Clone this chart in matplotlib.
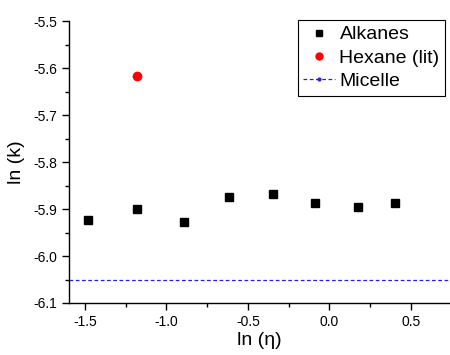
import matplotlib.pyplot as plt
from matplotlib.lines import Line2D
from matplotlib.ticker import MultipleLocator

plt.rcParams['font.family'] = ['Liberation Sans', 'DejaVu Sans']

# ln(viscosity) vs ln(rate constant) for the alkane series
ln_eta = [-1.48, -1.177, -0.894, -0.617, -0.343, -0.09, 0.175, 0.404]
ln_k = [-5.923, -5.899, -5.927, -5.874, -5.867, -5.888, -5.895, -5.886]

# literature value for hexane
hexane_eta = [-1.177]
hexane_k = [-5.616]

# micelle reference level
micelle_k = -6.05

fig = plt.figure(figsize=(4.5, 3.55), dpi=100)
ax = fig.add_axes([0.153, 0.1465, 0.847, 0.7935])

ax.plot(ln_eta, ln_k, 's', color='black', markersize=6, label='Alkanes')
ax.plot(hexane_eta, hexane_k, 'o', color='red', markersize=6, label='Hexane (lit)')
ax.axhline(micelle_k, color='#2222ee', lw=0.9, ls=(0, (3, 2)))

ax.set_xlim(-1.598, 0.74)
ax.set_ylim(-6.1, -5.5)
ax.xaxis.set_major_locator(MultipleLocator(0.5))
ax.xaxis.set_minor_locator(MultipleLocator(0.25))
ax.yaxis.set_major_locator(MultipleLocator(0.1))
ax.yaxis.set_minor_locator(MultipleLocator(0.05))
ax.xaxis.set_major_formatter(plt.FormatStrFormatter('%.1f'))
ax.yaxis.set_major_formatter(plt.FormatStrFormatter('%.1f'))

for s in ['top', 'right']:
    ax.spines[s].set_visible(False)
for s in ['left', 'bottom']:
    ax.spines[s].set_linewidth(1.0)
ax.tick_params(which='major', direction='out', length=5, width=1, labelsize=10)
ax.tick_params(which='minor', direction='out', length=3, width=1)

ax.set_xlabel('ln (η)', fontsize=14, labelpad=2)
ax.set_ylabel('ln (k)', fontsize=14, labelpad=6)

handles = [
    Line2D([], [], ls='none', marker='s', color='black', markersize=4),
    Line2D([], [], ls='none', marker='o', color='red', markersize=5),
    Line2D([], [], color='#2222ee', lw=0.9, ls=(0, (3, 2)), marker='.', markersize=4),
]
leg = ax.legend(handles, ['Alkanes', 'Hexane (lit)', 'Micelle'],
                loc='upper right', bbox_to_anchor=(0.988, 1.005),
                fontsize=14, frameon=True, fancybox=False, framealpha=1,
                edgecolor='black', handlelength=1.6, handletextpad=0.25,
                labelspacing=0.3, borderpad=0.3, borderaxespad=0)
leg.get_frame().set_linewidth(0.8)

fig.savefig('out.png', dpi=100)
